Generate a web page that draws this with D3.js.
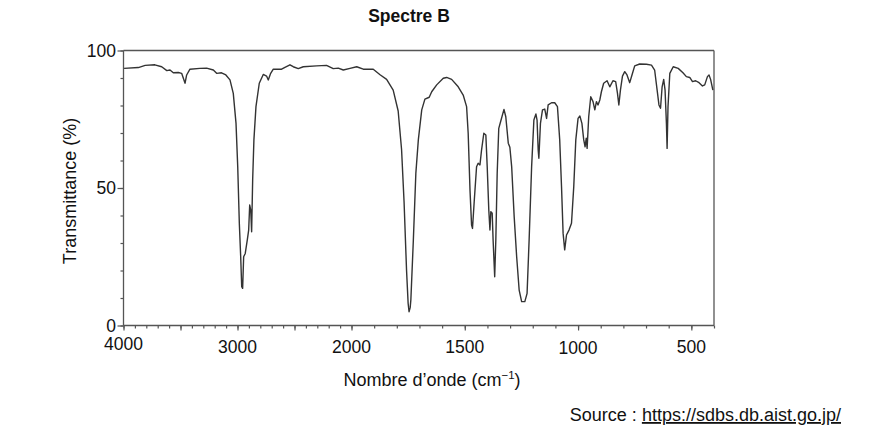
<!DOCTYPE html>
<html><head><meta charset="utf-8">
<script src="https://cdn.jsdelivr.net/npm/d3@7"></script>
<style>
body{margin:0;background:#fff;}
text{font-family:"Liberation Sans",Arial,sans-serif;fill:#111;}
</style></head>
<body><svg id="c" width="874" height="432"></svg>
<script>
const wavenumbers = [3995,3870,3810,3725,3665,3620,3592,3563,3519,3490,3475,3460,3446,3417,3330,3271,3212,3183,3140,3102,3066,3037,3013,2998,2984,2972,2963,2955,2946,2932,2914,2902,2893,2884,2876,2867,2856,2838,2809,2774,2745,2730,2709,2686,2613,2584,2540,2511,2467,2423,2306,2219,2160,2116,2072,2013,1977,1948,1904,1874,1845,1816,1794,1779,1768,1757,1750,1746,1741,1738,1727,1716,1705,1690,1676,1657,1646,1624,1595,1580,1558,1529,1507,1492,1485,1477,1470,1466,1458,1448,1441,1433,1426,1416,1407,1401,1394,1389,1385,1379,1375,1368,1363,1357,1350,1342,1327,1319,1308,1301,1293,1282,1271,1260,1249,1235,1225,1216,1205,1195,1186,1181,1176,1173,1166,1157,1147,1139,1132,1117,1103,1091,1081,1073,1066,1059,1051,1040,1029,1019,1010,1000,992,983,975,969,964,960,953,944,934,926,919,912,904,897,887,872,860,846,834,826,820,813,804,794,784,772,762,750,728,698,676,662,651,643,636,629,622,616,610,607,603,595,580,558,537,522,507,495,481,466,451,441,429,422,415,405];
const transmittance = [93.5,93.8,94.6,94.8,94.1,92.7,92.9,91.9,92.0,91.7,89.9,88.1,91.1,93.2,93.5,93.6,92.9,91.7,91.9,91.1,89.3,84.4,73.5,57.7,37.2,25.0,14.1,13.5,25.0,26.2,31.1,34.7,43.8,42.0,34.1,52.9,67.5,79.6,88.1,91.3,90.7,89.3,91.7,93.2,93.2,93.9,94.8,94.1,93.4,94.1,94.4,94.6,93.4,93.6,92.9,93.5,94.1,93.2,93.2,91.2,89.5,85.6,78,64,45,20,8,5.0,6.5,9.3,31.1,55.3,67.5,78.4,82.3,83.0,85.0,87.5,89.9,90.2,89.5,86.8,83.8,79.6,69.9,49.3,36.5,35.3,45.6,57.7,59.0,58.4,63.8,69.9,69.3,57.7,42.0,34.7,41.4,40.8,31.1,17.7,31.1,55.3,71.7,74.1,78.6,75.9,66.3,64.8,57.7,39.6,25,12.9,8.7,8.7,11.7,31.1,57.7,74.7,76.9,74.7,63.8,60.8,73.5,78.4,78.7,75.3,80.2,81.0,81.0,79.6,67.5,50.5,33.5,27.5,32.9,34.7,37.2,50.5,67.5,75.3,76.2,73.5,67.5,65,68.1,64.4,75.9,83.2,81.4,78.4,81.4,80.2,82,85.0,88.1,89.0,86.8,89.0,88.7,84.4,80.2,85.6,90.7,92.3,91.1,88.3,91.1,94.4,95.1,95.0,94.7,92.9,85.6,80.2,79,86.8,89.5,85.6,73.5,64.4,79.6,91.7,94.1,93.5,91.9,90.5,90.2,88.7,89.0,88.3,87.1,87.5,90.5,91.1,89.5,85.6];
const xDomain = [4000, 2000, 400];
const xMajorTicks = [4000,3500,3000,2500,2000,1500,1000,500];
const xTickLabels = ["4000","3000","2000","1500","1000","500"];
const xLabelValues = [4000,3000,2000,1500,1000,500];
const yMajorTicks = [0,50,100];
const yTickLabels = ["0","50","100"];
const title = "Spectre B";
const xTitle = "Nombre d’onde (cm";
const yTitle = "Transmittance (%)";

const svg = d3.select("#c");
const x = d3.scaleLinear().domain(xDomain).range([123.5, 351.5, 714]);
const y = d3.scaleLinear().domain([0,100]).range([325.5, 50.5]);
const axisColor = "#555";

svg.append("line").attr("x1",x(4000)).attr("x2",x(400)).attr("y1",y(100)).attr("y2",y(100)).attr("stroke",axisColor).attr("stroke-width",1.3);
svg.append("line").attr("x1",x(400)).attr("x2",x(400)).attr("y1",y(100)).attr("y2",y(0)).attr("stroke",axisColor).attr("stroke-width",1.3);

const minorX = d3.range(4000, 399, -100);
const gx = svg.append("g").attr("transform",`translate(0,${y(0)})`);
gx.call(d3.axisBottom(x).tickValues(minorX).tickSize(3).tickFormat(""));
gx.append("g").call(d3.axisBottom(x).tickValues(xMajorTicks).tickSize(5).tickFormat(""));
gx.selectAll("path.domain").remove();
gx.selectAll("line").attr("stroke",axisColor).attr("stroke-width",1.2);
svg.append("line").attr("x1",x(4000)).attr("x2",x(400)).attr("y1",y(0)).attr("y2",y(0)).attr("stroke",axisColor).attr("stroke-width",1.3);

const gy = svg.append("g").attr("transform",`translate(${x(4000)},0)`);
gy.call(d3.axisLeft(y).tickValues(d3.range(0,101,10)).tickSize(3).tickFormat(""));
gy.append("g").call(d3.axisLeft(y).tickValues(yMajorTicks).tickSize(6).tickFormat(""));
gy.selectAll("path.domain").remove();
gy.selectAll("line").attr("stroke",axisColor).attr("stroke-width",1.2);
svg.append("line").attr("x1",x(4000)).attr("x2",x(4000)).attr("y1",y(100)).attr("y2",y(0)).attr("stroke",axisColor).attr("stroke-width",1.3);

svg.selectAll("text.xl").data(xLabelValues).enter().append("text")
  .attr("x",d=>x(d)).attr("y",d=> (d===4000)?350:(d===1000?354:353)).attr("text-anchor","middle")
  .attr("font-size",17.5).text((d,i)=>xTickLabels[i]);
svg.selectAll("text.yl").data(yMajorTicks).enter().append("text")
  .attr("x",116).attr("y",d=>y(d)+6).attr("text-anchor","end")
  .attr("font-size",17.5).text((d,i)=>yTickLabels[i]);

const line = d3.line().x((d,i)=>x(wavenumbers[i])).y((d,i)=>y(transmittance[i]));
svg.append("path").datum(transmittance).attr("d",line).attr("fill","none")
  .attr("stroke","#333").attr("stroke-width",1.4).attr("stroke-linejoin","round");

svg.append("text").attr("x",409).attr("y",22).attr("text-anchor","middle").attr("font-size",17.5).attr("font-weight","bold").text(title);
const xt = svg.append("text").attr("x",432).attr("y",386).attr("text-anchor","middle").attr("font-size",18);
xt.append("tspan").text(xTitle);
xt.append("tspan").attr("dy",-7).attr("font-size",11.5).text("−1");
xt.append("tspan").attr("dy",7).text(")");
svg.append("text").attr("transform","translate(76,191) rotate(-90)").attr("text-anchor","middle").attr("font-size",18).text(yTitle);
const src = svg.append("text").attr("x",841).attr("y",421).attr("text-anchor","end").attr("font-size",18);
src.append("tspan").text("Source : ");
src.append("tspan").attr("text-decoration","underline").text("https://sdbs.db.aist.go.jp/");
</script></body></html>
